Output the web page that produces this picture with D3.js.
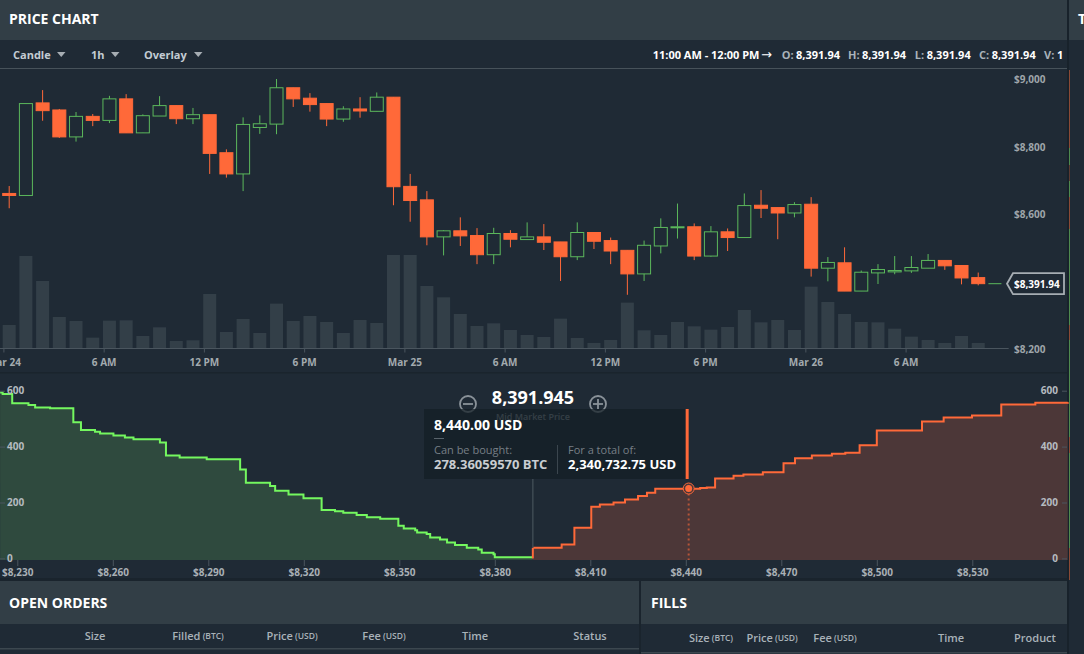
<!DOCTYPE html>
<html>
<head>
<meta charset="utf-8">
<script src="https://cdn.jsdelivr.net/npm/d3@7"></script>
<style>
  html, body { margin: 0; padding: 0; background: #1f2a35; overflow: hidden; }
  svg { display: block; font-family: "Open Sans", sans-serif; }
  .axis path.domain { display: none; }
  .axis text { font-family: "Open Sans", sans-serif; font-weight: 700; font-size: 10px; }
</style>
</head>
<body>
<svg id="chart" width="1084" height="654"></svg>
<script>
// hourly candles, one per hour from midnight Mar 24
var opens  = [8660,8654,8929,8908,8828,8889,8877,8941,8840,8890,8921,8882,8894,8781,8718,8856,8866,8974,8943,8927,8881,8911,8904,8946,8681,8641,8531,8549,8535,8478,8541,8523,8531,8516,8472,8544,8520,8491,8421,8504,8558,8561,8474,8546,8529,8625,8618,8602,8628,8438,8454,8370,8424,8427,8430,8438,8461,8446,8410,8391.94];
var highs  = [8682,8927,8967,8911,8902,8896,8950,8955,8895,8949,8921,8914,8894,8791,8886,8892,9000,8974,8958,8927,8919,8946,8960,8946,8718,8667,8551,8589,8557,8558,8551,8574,8569,8516,8574,8544,8529,8491,8520,8586,8630,8571,8563,8556,8660,8670,8618,8634,8649,8471,8500,8431,8450,8474,8474,8480,8461,8446,8425,8391.94];
var lows   = [8616,8654,8876,8825,8814,8860,8869,8840,8840,8890,8866,8866,8718,8707,8667,8837,8836,8917,8903,8860,8873,8885,8904,8625,8576,8506,8476,8504,8450,8450,8500,8523,8492,8400,8462,8495,8450,8359,8400,8482,8526,8462,8472,8489,8529,8587,8524,8589,8413,8399,8370,8370,8391,8420,8424,8438,8433,8390,8387,8391.94];
var closes = [8654,8927,8906,8828,8889,8877,8941,8840,8891,8921,8882,8894,8779,8718,8865,8867,8974,8941,8924,8881,8911,8905,8946,8680,8639,8531,8549,8534,8478,8541,8524,8531,8515,8472,8544,8518,8489,8421,8506,8559,8561,8474,8546,8529,8624,8616,8602,8627,8438,8455,8370,8426,8434,8431,8440,8461,8445,8409,8392,8391.94];
var volumes = [700,2770,2020,940,820,320,830,840,370,630,220,240,1630,490,880,460,1340,820,970,790,460,850,760,2800,2800,1870,1530,1030,670,750,550,400,340,890,310,160,250,1370,540,400,790,660,560,640,1150,780,850,550,1850,1390,1030,790,780,590,350,250,160,370,160,1];

// depth chart, order book steps
var bidPrices = [8224.6,8225.4,8228.4,8233.5,8235.6,8240.3,8247.6,8250,8254.4,8256,8260.2,8263.8,8266.5,8274.8,8276.7,8281,8289.5,8300,8301.8,8309.4,8311,8315.2,8319.9,8325.6,8329.8,8332.4,8336.6,8339.8,8344,8349.7,8351.4,8355,8355.6,8358.6,8359.7,8362.8,8365,8367.5,8371.2,8374.8,8375.9,8379.6,8380,8391.945];
var bidDepths = [594,588,555,549,540,537,487,459,453,447,440,433,426,415,368,361,355,318,271,259,242,229,215,173,169,163,155,147,142,117,107,101,93,87,75,68,57,48,38,32,20,15,4,1];
var askPrices = [8391.945,8401,8405,8410.3,8413,8417.3,8420.9,8425,8427.8,8430.4,8444.5,8446.6,8449.2,8455,8458.1,8464.2,8470.7,8474.3,8479.6,8485.9,8490.1,8494.6,8500,8514.2,8521,8529.9,8539.1,8549.8,8560];
var askDepths = [38,50,110,185,193,200,211,223,235,249,252,254,286,296,300,308,340,358,368,374,378,405,458,490,504,511,551,557,559];

var priceTicks = [8200,8600,8800,9000];
var depthTicks = [0,200,400,600];
var bookTicks = [8230,8260,8290,8320,8350,8380,8410,8440,8470,8500,8530];
var timeTicks = [[0,"Mar 24"],[6,"6 AM"],[12,"12 PM"],[18,"6 PM"],[24,"Mar 25"],[30,"6 AM"],[36,"12 PM"],[42,"6 PM"],[48,"Mar 26"],[54,"6 AM"]];

var openCols = [["Size",95],["Filled (BTC)",198],["Price (USD)",292],["Fee (USD)",384],["Time",475],["Status",590]];
var fillCols = [["Size (BTC)",711],["Price (USD)",772],["Fee (USD)",835],["Time",951],["Product",1035]];
var ohlcLabels = [["O:",781.7,796],["H:",848,862],["L:",914.7,926.7],["C:",979,991.7]];

var lastPrice = 8391.94, midPrice = 8391.945, hoverPrice = 8440.9;

var red = "#ff6939", green = "#5cb85c", bright = "#74f75f";
var svg = d3.select("#chart");

function hour(h) { return new Date(Date.UTC(2018, 2, 24, h)); }

// panels
svg.append("rect").attr("width", 1084).attr("height", 654).attr("fill", "#1f2a35");
svg.append("rect").attr("width", 1084).attr("height", 40).attr("fill", "#323e46");
svg.append("line").attr("x1", 0).attr("x2", 1067).attr("y1", 68.5).attr("y2", 68.5).attr("stroke", "#47525a");
svg.append("rect").attr("y", 581).attr("width", 1067).attr("height", 43).attr("fill", "#323e46");
svg.append("rect").attr("x", 639).attr("y", 578).attr("width", 2).attr("height", 76).attr("fill", "#1a242d");
svg.append("rect").attr("y", 372).attr("width", 1067).attr("height", 1.5).attr("fill", "#1a242d");
svg.append("rect").attr("y", 578).attr("width", 1067).attr("height", 3).attr("fill", "#1a242d");
svg.append("rect").attr("x", 1067).attr("width", 2).attr("height", 654).attr("fill", "#18222b");

function title(str, x, y, size) {
  return svg.append("text").attr("x", x).attr("y", y).attr("fill", "#fff")
    .attr("font-size", size).attr("font-weight", 700).attr("dominant-baseline", "central").text(str);
}
title("PRICE CHART", 9, 18, 14);
title("T", 1078, 18, 14);
title("OPEN ORDERS", 9, 602, 14);
title("FILLS", 651, 602, 14);

// toolbar
[["Candle",13,57],["1h",91,111],["Overlay",144,194]].forEach(function (d) {
  svg.append("text").attr("x", d[1]).attr("y", 54).attr("fill", "#c3ccd3").attr("font-size", 11)
    .attr("font-weight", 700).attr("dominant-baseline", "central").text(d[0]);
  svg.append("path").attr("d", `M${d[2]},52 h8.5 l-4.25,5 z`).attr("fill", "#a6adb3");
});
function info(str, x, color) {
  return svg.append("text").attr("x", x).attr("y", 54).attr("fill", color).attr("font-size", 11)
    .attr("font-weight", 700).attr("dominant-baseline", "central").text(str);
}
info("11:00 AM - 12:00 PM", 652.7, "#fff");
info("\u2192", 761, "#fff").attr("font-family", "DejaVu Sans").attr("font-size", 13).attr("font-weight", 400);
ohlcLabels.forEach(function (d) {
  info(d[0], d[1], "#a9b2b9");
  info(d3.format(",.2f")(lastPrice), d[2], "#fff");
});
info("V:", 1044, "#a9b2b9");
info("1", 1057, "#fff");

// price chart scales
var xTime = d3.scaleUtc().domain([hour(0), hour(54)]).range([3.4, 905.6]);
var candleOffset = 5.8, candleW = 13;
var yPrice = d3.scaleLinear().domain([8200, 9000]).range([348.3, 79]);
var yVol = d3.scaleLinear().domain([0, 2800]).range([348.3, 255]);

function cx(i) { return xTime(hour(i)) + candleOffset; }

svg.append("g").selectAll("rect").data(volumes).join("rect")
  .attr("x", (d, i) => cx(i) - 6.5)
  .attr("width", 13)
  .attr("y", d => yVol(d))
  .attr("height", d => yVol(0) - yVol(d))
  .attr("fill", "#333f48");

var candles = svg.append("g").selectAll("g").data(opens).join("g");
candles.append("line")
  .attr("x1", (d, i) => cx(i)).attr("x2", (d, i) => cx(i))
  .attr("y1", (d, i) => yPrice(highs[i]))
  .attr("y2", (d, i) => yPrice(lows[i]))
  .attr("stroke", (d, i) => closes[i] < d ? red : green)
  .attr("stroke-width", 1);
candles.append("rect")
  .filter((d, i) => i < opens.length - 1)
  .attr("x", (d, i) => cx(i) - candleW / 2)
  .attr("width", candleW)
  .attr("y", (d, i) => yPrice(Math.max(d, closes[i])))
  .attr("height", (d, i) => Math.abs(yPrice(d) - yPrice(closes[i])))
  .attr("fill", (d, i) => closes[i] < d ? red : "#1f2a35")
  .attr("stroke", (d, i) => closes[i] < d ? red : green)
  .attr("stroke-width", 1);
// last candle is only a flat mark
svg.append("line")
  .attr("x1", cx(59) - 6.5).attr("x2", cx(59) + 6.5)
  .attr("y1", yPrice(lastPrice)).attr("y2", yPrice(lastPrice))
  .attr("stroke", green).attr("stroke-width", 1);

// time axis
var timeAxis = d3.axisBottom(xTime)
  .tickValues(timeTicks.map(d => hour(d[0])))
  .tickFormat((d, i) => timeTicks[i][1])
  .tickSize(4).tickPadding(6);
svg.append("line").attr("x1", 0).attr("x2", 1008.7).attr("y1", 348.5).attr("y2", 348.5).attr("stroke", "#4a555e");
var gt = svg.append("g").attr("class", "axis").attr("transform", "translate(0,348.5)").call(timeAxis);
gt.selectAll("line").attr("stroke", "#4a555e");
gt.selectAll("text").attr("fill", "#a3aaaf");

// price axis
var gp = svg.append("g").attr("class", "axis").attr("transform", "translate(1014,0.5)")
  .call(d3.axisRight(yPrice).tickValues(priceTicks).tickFormat(d3.format("$,")).tickSize(0).tickPadding(0));
gp.selectAll("text").attr("fill", "#9ea5aa");

// last price tag
var tagY = yPrice(lastPrice);
svg.append("path")
  .attr("d", `M1007,${tagY} l6,-10.5 h51 v21 h-51 z`)
  .attr("fill", "#1f2a35").attr("stroke", "#a6adb3").attr("stroke-width", 1.8);
svg.append("text").attr("x", 1014).attr("y", tagY).attr("fill", "#fff").attr("font-size", 10)
  .attr("font-weight", 700).attr("dominant-baseline", "central").text("$" + d3.format(",.2f")(lastPrice));

// depth chart
var xBook = d3.scaleLinear().domain([8230, 8530]).range([17.3, 972.3]);
var yDepth = d3.scaleLinear().domain([0, 600]).range([558.4, 390.7]);
var depth = svg.append("g");

function drawSide(prices, depths, fill, stroke) {
  var pts = prices.map((p, i) => [p, depths[i]]);
  depth.append("path").datum(pts)
    .attr("d", d3.area().curve(d3.curveStepAfter).x(d => xBook(d[0])).y0(560).y1(d => yDepth(d[1])))
    .attr("fill", fill);
  depth.append("path").datum(pts)
    .attr("d", d3.line().curve(d3.curveStepAfter).x(d => xBook(d[0])).y(d => yDepth(d[1])))
    .attr("fill", "none").attr("stroke", stroke).attr("stroke-width", 2);
}
drawSide(bidPrices, bidDepths, "#2f4a3e", bright);
drawSide(askPrices, askDepths, "#4c3738", red);
// left edge of the ask side
depth.append("line")
  .attr("x1", xBook(midPrice)).attr("x2", xBook(midPrice))
  .attr("y1", yDepth(askDepths[0])).attr("y2", yDepth(0))
  .attr("stroke", red).attr("stroke-width", 2);
depth.append("line")
  .attr("x1", xBook(midPrice)).attr("x2", xBook(midPrice))
  .attr("y1", 479).attr("y2", yDepth(askDepths[0]))
  .attr("stroke", "#3e4a53").attr("stroke-width", 1.5);

var gb = svg.append("g").attr("class", "axis").attr("transform", "translate(0,560)")
  .call(d3.axisBottom(xBook).tickValues(bookTicks).tickFormat(d3.format("$,")).tickSize(6).tickPadding(3));
gb.selectAll("line").attr("stroke", "#4a555e");
gb.selectAll("text").attr("fill", "#a9b0b5");

var gl = svg.append("g").attr("class", "axis").attr("transform", "translate(0,0)")
  .call(d3.axisRight(yDepth).tickValues(depthTicks).tickSize(5).tickPadding(2));
var gr = svg.append("g").attr("class", "axis").attr("transform", "translate(1067,0)")
  .call(d3.axisLeft(yDepth).tickValues(depthTicks).tickSize(5).tickPadding(4));
[gl, gr].forEach(function (g) {
  g.selectAll("line").attr("stroke", "#4a555e");
  g.selectAll("text").attr("fill", "#b5bbc0");
});

// mid market header
svg.append("text").attr("x", 533).attr("y", 397).attr("text-anchor", "middle").attr("fill", "#fff")
  .attr("font-size", 18).attr("font-weight", 700).attr("dominant-baseline", "central").text("8,391.945");
svg.append("text").attr("x", 533).attr("y", 416.7).attr("text-anchor", "middle").attr("fill", "#8a9299")
  .attr("font-size", 9).attr("font-weight", 600).attr("dominant-baseline", "central").text("Mid Market Price");
[[468, "-"], [598, "+"]].forEach(function (d) {
  svg.append("circle").attr("cx", d[0]).attr("cy", 404).attr("r", 8).attr("fill", "none")
    .attr("stroke", "#8a9299").attr("stroke-width", 1.8);
  svg.append("line").attr("x1", d[0] - 5).attr("x2", d[0] + 5).attr("y1", 404).attr("y2", 404)
    .attr("stroke", "#8a9299").attr("stroke-width", 1.8);
  if (d[1] == "+") {
    svg.append("line").attr("x1", d[0]).attr("x2", d[0]).attr("y1", 399).attr("y2", 409)
      .attr("stroke", "#8a9299").attr("stroke-width", 1.8);
  }
});

// hover tooltip, see through so the mid price label shows
var hx = xBook(hoverPrice);
svg.append("rect").attr("x", 424).attr("y", 409).attr("width", 263).attr("height", 70)
  .attr("fill", "#141e26").attr("fill-opacity", 0.72);
svg.append("rect").attr("x", hx - 3).attr("y", 409).attr("width", 3).attr("height", 70).attr("fill", red);
function tip(str, x, y, size, weight, color) {
  svg.append("text").attr("x", x).attr("y", y).attr("font-size", size).attr("font-weight", weight)
    .attr("fill", color).attr("dominant-baseline", "central").text(str);
}
tip("8,440.00 USD", 434, 424.5, 14, 700, "#fff");
svg.append("line").attr("x1", 434).attr("x2", 444).attr("y1", 438.5).attr("y2", 438.5).attr("stroke", "#59636b");
tip("Can be bought:", 434, 449.5, 11, 400, "#767f86");
tip("278.36059570 BTC", 434, 463.5, 13, 700, "#c9cdd1");
svg.append("line").attr("x1", 557.5).attr("x2", 557.5).attr("y1", 445).attr("y2", 474).attr("stroke", "#3b464e");
tip("For a total of:", 568, 449.5, 11, 400, "#767f86");
tip("2,340,732.75 USD", 568, 463.5, 13, 700, "#fff");

// hover marker
var hy = yDepth(250);
svg.append("line").attr("x1", hx).attr("x2", hx).attr("y1", hy).attr("y2", 560)
  .attr("stroke", red).attr("stroke-opacity", 0.6).attr("stroke-width", 2).attr("stroke-dasharray", "2,3");
svg.append("circle").attr("cx", hx).attr("cy", hy).attr("r", 5.5).attr("fill", "#4c3738").attr("stroke", red).attr("stroke-width", 1);
svg.append("circle").attr("cx", hx).attr("cy", hy).attr("r", 3.5).attr("fill", red);

// table headers
function heads(cols, y, lineY, x1, x2) {
  svg.append("g").selectAll("text").data(cols).join("text")
    .attr("x", d => d[1]).attr("y", y).attr("text-anchor", "middle").attr("fill", "#a9b2b9")
    .attr("font-size", 11).attr("font-weight", 600).attr("dominant-baseline", "central")
    .each(function (d) {
      var m = d[0].match(/^(.*?)(\s\(.*\))?$/);
      d3.select(this).append("tspan").text(m[1]);
      if (m[2]) d3.select(this).append("tspan").attr("font-size", 8.5).text(m[2]);
    });
  svg.append("rect").attr("x", x1).attr("width", x2 - x1).attr("y", lineY).attr("height", 1.5).attr("fill", "#3c474f");
}
heads(openCols, 635, 648, 0, 639);
heads(fillCols, 637, 652, 641, 1067);

// neighbouring panel, only its colored edge shows
var edgeSegs = [[70,148,"#8a4a36"],[148,165,"#4f8a4f"],[165,181,"#5c3a32"],[181,197,"#4f8a4f"],[197,229,"#8a4a36"],[229,325,"#4f8a4f"],[325,340,"#8a4a36"],[340,437,"#4f8a4f"],[437,453,"#8a4a36"],[453,548,"#4f8a4f"],[548,580,"#8a4a36"]];
svg.append("g").selectAll("rect").data(edgeSegs).join("rect")
  .attr("x", 1069).attr("width", 1)
  .attr("y", d => d[0]).attr("height", d => d[1] - d[0])
  .attr("fill", d => d[2]);
</script>
</body>
</html>
